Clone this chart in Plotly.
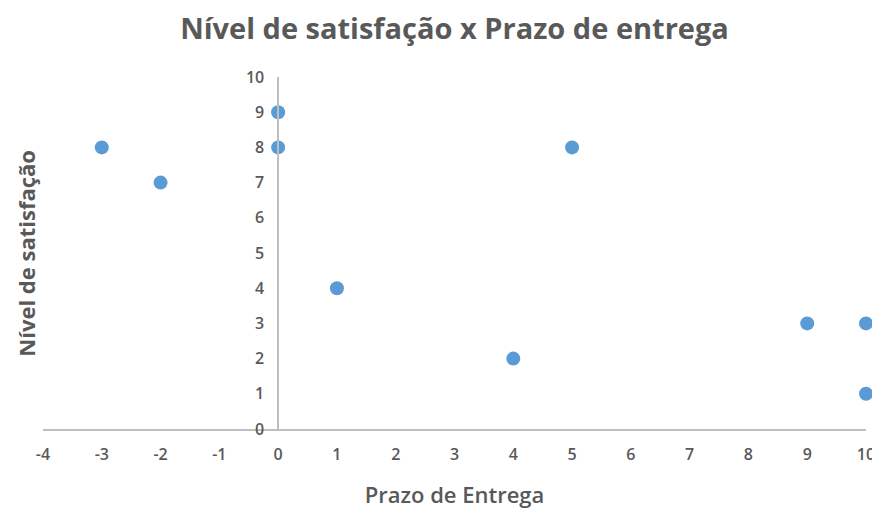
import plotly.graph_objects as go

prazo = [-3, -2, 0, 0, 1, 4, 5, 9, 10, 10]
satisfacao = [8, 7, 9, 8, 4, 2, 8, 3, 3, 1]
x_ticks = list(range(-4, 11))
y_ticks = list(range(0, 11))

gray = "#595959"
axis_col = "#bfbfbf"
fam = "Open Sans"

# page body has an 8px margin, so the figure is sized 872x501
W, H = 872, 501
fig = go.Figure()
fig.add_trace(go.Scatter(
    x=prazo, y=satisfacao, mode="markers",
    marker=dict(color="#5B9BD5", size=14, line=dict(width=0)),
    cliponaxis=False, showlegend=False,
))

fig.update_layout(
    width=W, height=H,
    margin=dict(l=35, r=14, t=69, b=80, autoexpand=False),
    paper_bgcolor="white", plot_bgcolor="white",
    font=dict(family=fam, color=gray, size=14),
    title=dict(text="<b>Nível de satisfação x Prazo de entrega</b>",
               x=0.5, xref="paper", xanchor="center",
               y=1 - 21 / H, yref="container", yanchor="middle",
               font=dict(size=29, color=gray, family=fam)),
    xaxis=dict(range=[-4, 10], tickvals=x_ticks, ticktext=[str(v) for v in x_ticks],
               showgrid=False, zeroline=False, automargin=False,
               showline=True, linecolor=axis_col, linewidth=1.5,
               ticks="", ticklabelstandoff=10,
               tickfont=dict(size=16, color=gray, weight=600),
               title=dict(text="Prazo de Entrega", font=dict(size=22, color=gray, weight=600), standoff=24)),
    yaxis=dict(range=[0, 10], tickvals=y_ticks, ticktext=[str(v) for v in y_ticks],
               showgrid=False, zeroline=False, automargin=False,
               showline=True, linecolor=axis_col, linewidth=1.5,
               anchor="free", position=4/14,
               ticks="", ticklabelstandoff=10,
               tickfont=dict(size=16, color=gray, weight=600),
               title=dict(text="")),
    annotations=[dict(text="<b>Nível de satisfação</b>", textangle=-90,
                      x=-0.021, xref="paper", y=0.5, yref="paper",
                      xanchor="center", yanchor="middle",
                      showarrow=False, font=dict(size=22, color=gray, family=fam))],
)
fig.write_html("out.html")
